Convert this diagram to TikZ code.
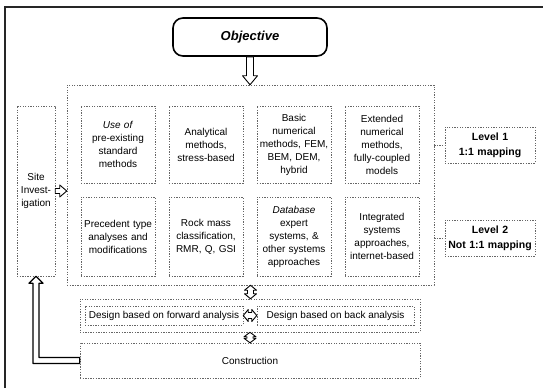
\documentclass[tikz,border=0pt]{standalone}
\usepackage{fontspec}
\setmainfont{Liberation Sans}
\usetikzlibrary{calc}
\begin{document}
\begin{tikzpicture}[x=1pt,y=-1pt,
  dsh/.style={draw=black!60, line width=0.5pt, dash pattern=on 1.3pt off 1.3pt},
  cbox/.style={dsh, minimum width=74pt, text width=73pt, align=center, inner sep=0pt,
    font=\fontsize{10}{13}\selectfont},
  lvl/.style={dsh, minimum width=90pt, minimum height=36pt, text width=88pt, align=center,
    inner sep=0pt, font=\fontsize{10.5}{15}\selectfont\bfseries},
  wide/.style={dsh, inner sep=0pt, font=\fontsize{10}{12}\selectfont},
  blk/.style={draw=black, line width=0.9pt, fill=white, line join=round},
  frame/.style={draw=black!85, line width=1.4pt}]
\useasboundingbox (0,0) rectangle (543,388);
% outer frame
\coordinate (fbl) at (5,388);
\coordinate (ftl) at (5,7);
\coordinate (ftr) at (543,7);
\draw[frame] (fbl) -- (ftl) -- (ftr);
% objective
\node[draw=black, line width=1.6pt, rounded corners=10pt, minimum width=154pt, minimum height=38pt,
  inner sep=0pt, font=\fontsize{13}{15}\selectfont\bfseries\itshape] (obj) at (250,37) {Objective};
% container
\node[dsh, minimum width=367pt, minimum height=200pt, inner sep=0pt] (cont) at (250.5,185) {};
% site
\node[cbox, minimum width=38pt, text width=37pt, minimum height=170pt] (site) at (36,191) {Site\\Invest-\\igation};
% row 1
\node[cbox, minimum height=77pt] (b1) at (118,144.5) {\textit{Use of}\\pre-existing\\standard\\methods};
\node[cbox, minimum height=77pt] (b2) at (206,144.5) {Analytical\\methods,\\stress-based};
\node[cbox, minimum height=77pt] (b3) at (294,144.5) {Basic\\numerical\\methods, FEM,\\BEM, DEM,\\hybrid};
\node[cbox, minimum height=77pt] (b4) at (382,144.5) {Extended\\numerical\\methods,\\fully-coupled\\models};
% row 2
\node[cbox, minimum height=79pt] (b5) at (118,236.5) {Precedent type\\analyses and\\modifications};
\node[cbox, minimum height=79pt] (b6) at (206,236.5) {Rock mass\\classification,\\RMR, Q, GSI};
\node[cbox, minimum height=79pt] (b7) at (294,236.5) {\textit{Database}\\expert\\systems, \&\\other systems\\approaches};
\node[cbox, minimum height=79pt] (b8) at (382,236.5) {Integrated\\systems\\approaches,\\internet-based};
% levels
\node[lvl] (l1) at (490,145) {Level 1\\1:1 mapping};
\node[lvl] (l2) at (490,238) {Level 2\\Not 1:1 mapping};
\draw[dsh] (l1.west -| cont.east) -- (l1.west);
\draw[dsh] (l2.west -| cont.east) -- (l2.west);
% design
\node[wide, minimum width=340pt, minimum height=33pt] (dcont) at (250,315.5) {};
\node[wide, minimum width=158pt, minimum height=19pt] (dleft) at (164,315.5) {Design based on forward analysis};
\node[wide, minimum width=157pt, minimum height=19pt] (dright) at (335.5,315.5) {Design based on back analysis};
% construction
\node[wide, minimum width=340pt, minimum height=35pt] (constr) at (250,360.5) {Construction};
% objective -> container
\draw[blk] let \p1=(obj.south), \p2=(cont.north) in
  ({\x1-3.5pt},\y1) -- ({\x1-3.5pt},{\y2+9pt}) -- ({\x1-7.5pt},{\y2+9pt}) -- (\x1,\y2)
  -- ({\x1+7.5pt},{\y2+9pt}) -- ({\x1+3.5pt},{\y2+9pt}) -- ({\x1+3.5pt},\y1) -- cycle;
% site -> container
\draw[blk] let \p1=(site.east), \p2=(cont.west) in
  (\x1,{\y1+2.5pt}) -- ({\x2-7pt},{\y1+2.5pt}) -- ({\x2-7pt},{\y1+6pt}) -- (\x2,\y1)
  -- ({\x2-7pt},{\y1-6pt}) -- ({\x2-7pt},{\y1-2.5pt}) -- (\x1,{\y1-2.5pt}) -- cycle;
% container <-> design
\draw[blk] let \p1=(cont.south), \p2=(dcont.north) in
  (\x1,\y1) -- ({\x1+6pt},{\y1-5pt}) -- ({\x1+3pt},{\y1-5pt}) -- ({\x1+3pt},{\y2+5pt})
  -- ({\x1+6pt},{\y2+5pt}) -- (\x1,\y2) -- ({\x1-6pt},{\y2+5pt}) -- ({\x1-3pt},{\y2+5pt})
  -- ({\x1-3pt},{\y1-5pt}) -- ({\x1-6pt},{\y1-5pt}) -- cycle;
% design <-> construction
\draw[blk] let \p1=(dcont.south), \p2=(constr.north) in
  (\x1,\y1) -- ({\x1+6pt},{\y1-4.5pt}) -- ({\x1+3pt},{\y1-4.5pt}) -- ({\x1+3pt},{\y2+4.5pt})
  -- ({\x1+6pt},{\y2+4.5pt}) -- (\x1,\y2) -- ({\x1-6pt},{\y2+4.5pt}) -- ({\x1-3pt},{\y2+4.5pt})
  -- ({\x1-3pt},{\y1-4.5pt}) -- ({\x1-6pt},{\y1-4.5pt}) -- cycle;
% forward <-> back
\draw[blk] let \p1=(dleft.east), \p2=(dright.west) in
  (\x1,\y1) -- ({\x1+5pt},{\y1+6pt}) -- ({\x1+5pt},{\y1+3pt}) -- ({\x2-5pt},{\y1+3pt})
  -- ({\x2-5pt},{\y1+6pt}) -- (\x2,\y1) -- ({\x2-5pt},{\y1-6pt}) -- ({\x2-5pt},{\y1-3pt})
  -- ({\x1+5pt},{\y1-3pt}) -- ({\x1+5pt},{\y1-6pt}) -- cycle;
% construction -> site (L-shaped)
\draw[blk, line width=1.3pt] let \p1=(constr.west), \p2=(site.south) in
  (\x1,{\y1+3pt}) -- ({\x2+3pt},{\y1+3pt}) -- ({\x2+3pt},{\y2-7pt}) -- ({\x2+7pt},{\y2-7pt})
  -- (\x2,\y2) -- ({\x2-7pt},{\y2-7pt}) -- ({\x2-3pt},{\y2-7pt}) -- ({\x2-3pt},{\y1-3pt})
  -- (\x1,{\y1-3pt}) -- cycle;
\end{tikzpicture}
\end{document}
